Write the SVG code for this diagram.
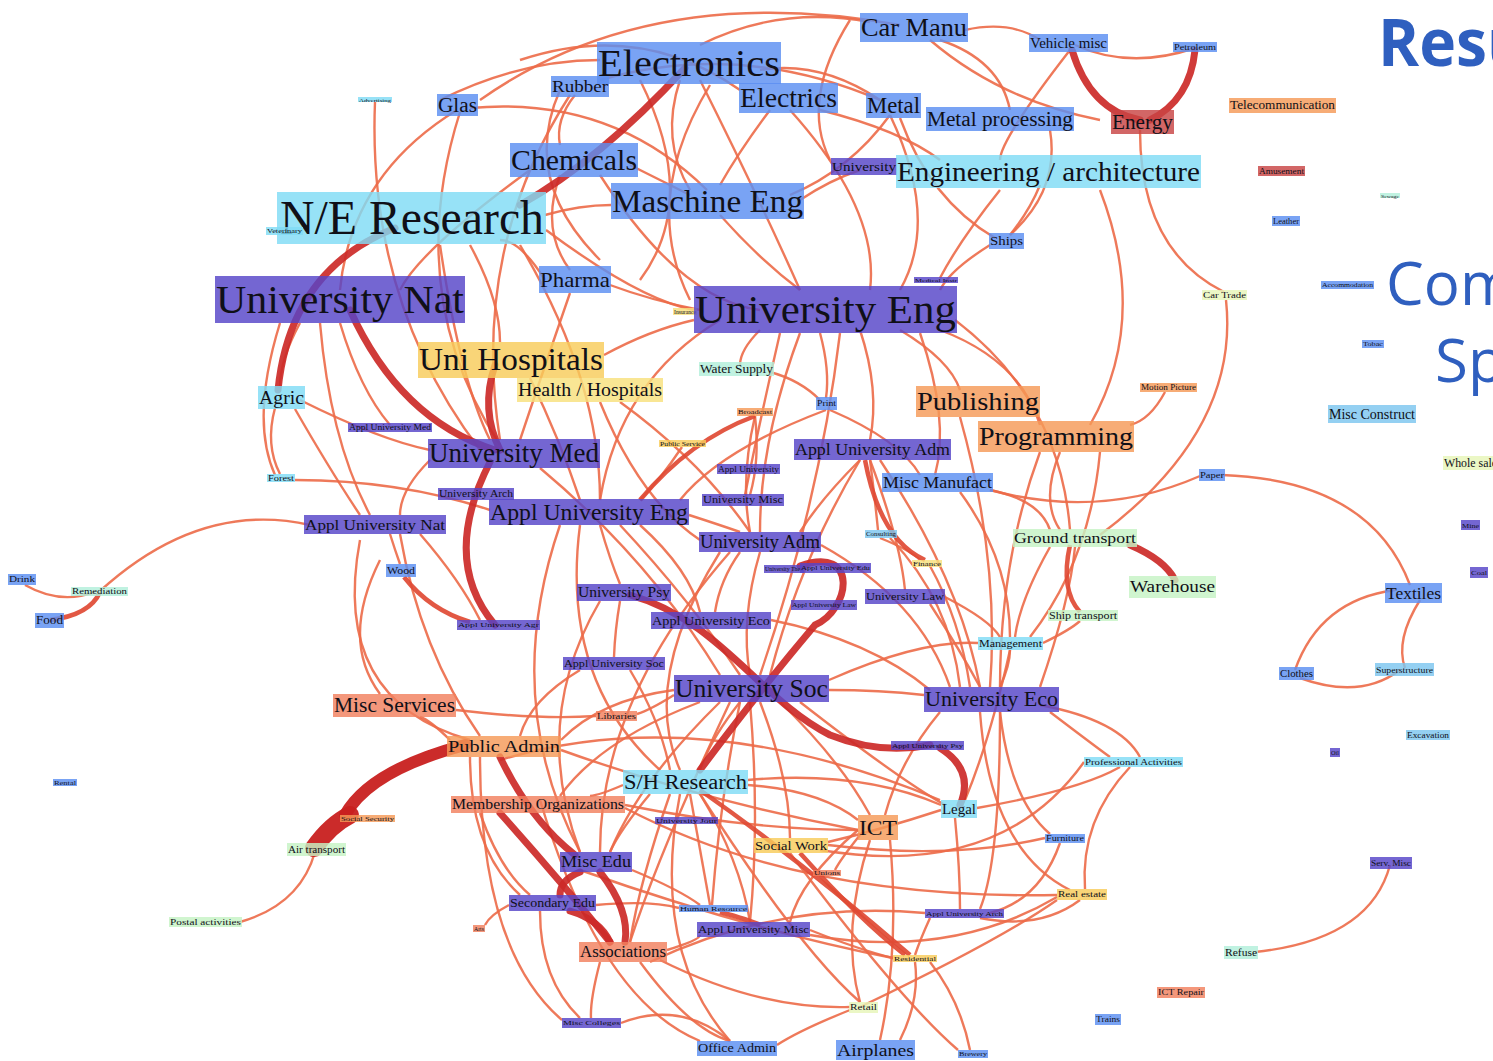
<svg xmlns="http://www.w3.org/2000/svg" width="1493" height="1061" viewBox="0 0 1493 1061">
<style>
.e{fill:none;stroke:#ec6a48;stroke-width:2.4;opacity:.9}
.m{fill:none;stroke:#e04a34;stroke-width:4.5;opacity:.92}
.t{fill:none;stroke:#cc2a28;stroke-width:7;stroke-linecap:round;opacity:.92}
.tt{fill:none;stroke:#c8201f;stroke-linecap:round;opacity:.95}
rect{fill-opacity:.82}
.b{fill:#5c8ff2}.u{fill:#5644c8}.c{fill:#80dcf5}.y{fill:#f8cc5a}.yl{fill:#f8e07c}.o{fill:#f59a58}.r{fill:#f2805e}.dr{fill:#c84444}.g{fill:#c6f3c4}.gy{fill:#e6f5b8}.lb{fill:#7cc6ef}.tq{fill:#b2efda}
text{font-family:"Liberation Serif",serif;fill:#101018}
.h{font-family:"Open Sans","Noto Sans",sans-serif;fill:#2f5fbf}
</style>
<rect x="0" y="0" width="1493" height="1061" fill="#ffffff" fill-opacity="1"/>
<g id="connectors">
<path class="e" d="M480 100Q650-20 900 25"/>
<path class="e" d="M700 45Q780 5 870 22"/>
<path class="e" d="M600 80Q740 40 880 100"/>
<path class="e" d="M760 70Q820 60 880 100"/>
<path class="e" d="M965 30Q1010 20 1040 40"/>
<path class="e" d="M940 40Q1000 60 1010 110"/>
<path class="e" d="M930 40Q1000 100 1100 120"/>
<path class="e" d="M850 20Q800 100 830 160"/>
<path class="e" d="M1070 50Q1000 140 1000 160"/>
<path class="e" d="M820 110Q900 130 940 160"/>
<path class="e" d="M520 60Q640 20 740 90"/>
<path class="e" d="M440 100Q520 60 600 60"/>
<path class="e" d="M630 165Q670 185 690 195"/>
<path class="e" d="M600 175Q680 300 760 310"/>
<path class="e" d="M530 170Q420 250 400 290"/>
<path class="e" d="M560 175Q540 230 570 270"/>
<path class="e" d="M575 95Q555 120 560 145"/>
<path class="e" d="M570 95Q470 250 500 440"/>
<path class="e" d="M560 90Q520 180 600 260"/>
<path class="e" d="M640 80Q700 200 640 280"/>
<path class="e" d="M710 85Q640 200 690 300"/>
<path class="e" d="M720 215Q760 260 800 290"/>
<path class="e" d="M790 195Q850 170 890 115"/>
<path class="e" d="M800 200Q830 180 860 170"/>
<path class="e" d="M790 110Q880 210 870 290"/>
<path class="e" d="M770 110Q740 150 720 185"/>
<path class="e" d="M680 80Q660 140 690 190"/>
<path class="e" d="M700 80Q760 200 800 290"/>
<path class="e" d="M890 115Q940 220 900 290"/>
<path class="e" d="M1050 130Q1060 190 1010 235"/>
<path class="e" d="M1040 185Q1030 210 1010 235"/>
<path class="e" d="M1000 190Q960 240 940 278"/>
<path class="e" d="M900 118Q930 200 995 238"/>
<path class="e" d="M990 245Q950 270 940 290"/>
<path class="e" d="M1100 190Q1150 320 1090 425"/>
<path class="e" d="M457 110Q351 175 340 290"/>
<path class="e" d="M470 108Q611 95 707 190"/>
<path class="e" d="M460 112Q402 295 500 445"/>
<path class="e" d="M375 102Q367 301 480 450"/>
<path class="e" d="M720 320Q620 380 600 500"/>
<path class="e" d="M760 330Q740 350 740 365"/>
<path class="e" d="M800 333Q760 440 760 532"/>
<path class="e" d="M780 333Q760 420 745 495"/>
<path class="e" d="M840 333Q820 500 760 675"/>
<path class="e" d="M820 333Q830 370 826 398"/>
<path class="e" d="M860 330Q880 390 870 440"/>
<path class="e" d="M920 333Q950 420 935 475"/>
<path class="e" d="M900 330Q950 360 960 390"/>
<path class="e" d="M940 330Q1020 360 1040 425"/>
<path class="e" d="M955 320Q1060 400 1070 530"/>
<path class="e" d="M570 293Q540 380 520 440"/>
<path class="e" d="M610 285Q650 300 700 310"/>
<path class="e" d="M545 280Q520 240 500 240"/>
<path class="e" d="M440 245Q460 380 490 440"/>
<path class="e" d="M470 245Q500 300 500 342"/>
<path class="e" d="M520 245Q600 380 600 500"/>
<path class="e" d="M545 215Q580 205 611 205"/>
<path class="e" d="M546 230Q640 300 694 310"/>
<path class="e" d="M300 323Q280 360 280 386"/>
<path class="e" d="M340 323Q360 390 390 425"/>
<path class="e" d="M320 323Q330 440 370 515"/>
<path class="e" d="M280 323Q250 420 275 475"/>
<path class="e" d="M275 408Q265 445 280 474"/>
<path class="e" d="M300 400Q380 440 430 450"/>
<path class="e" d="M295 409Q330 470 360 515"/>
<path class="e" d="M295 480Q400 480 490 510"/>
<path class="e" d="M530 378Q560 440 580 500"/>
<path class="e" d="M604 355Q650 330 694 320"/>
<path class="e" d="M600 402Q640 500 700 540"/>
<path class="e" d="M620 402Q700 460 750 532"/>
<path class="e" d="M770 372Q800 380 820 400"/>
<path class="e" d="M755 416Q740 480 750 532"/>
<path class="e" d="M755 416Q760 460 750 495"/>
<path class="e" d="M826 410Q720 450 680 500"/>
<path class="e" d="M830 410Q900 440 920 475"/>
<path class="e" d="M682 447Q660 480 640 500"/>
<path class="e" d="M860 460Q820 500 800 532"/>
<path class="e" d="M870 460Q875 500 878 530"/>
<path class="e" d="M860 460Q800 560 770 675"/>
<path class="e" d="M880 460Q960 580 980 687"/>
<path class="e" d="M870 460Q900 540 905 590"/>
<path class="e" d="M990 490Q1040 500 1050 530"/>
<path class="e" d="M960 492Q1010 560 1010 637"/>
<path class="e" d="M1060 452Q1040 500 1060 530"/>
<path class="e" d="M1040 452Q1000 560 1000 687"/>
<path class="e" d="M960 417Q1000 560 990 687"/>
<path class="e" d="M1100 452Q1090 560 1030 637"/>
<path class="e" d="M990 490Q1100 520 1200 476"/>
<path class="e" d="M1165 392Q1150 420 1130 425"/>
<path class="e" d="M1226 300Q1240 430 1100 535"/>
<path class="e" d="M1140 130Q1140 250 1224 292"/>
<path class="e" d="M540 468Q650 560 720 675"/>
<path class="e" d="M430 460Q400 490 400 515"/>
<path class="e" d="M620 525Q690 600 740 675"/>
<path class="e" d="M689 515Q720 525 740 532"/>
<path class="e" d="M600 525Q610 560 620 584"/>
<path class="e" d="M640 525Q690 570 700 612"/>
<path class="e" d="M560 525Q500 700 580 852"/>
<path class="e" d="M580 525Q560 680 660 770"/>
<path class="e" d="M390 534Q395 550 400 564"/>
<path class="e" d="M420 534Q460 580 480 620"/>
<path class="e" d="M400 534Q420 650 480 736"/>
<path class="e" d="M380 560Q340 640 380 694"/>
<path class="e" d="M360 540Q330 700 470 740"/>
<path class="e" d="M760 552Q740 620 750 675"/>
<path class="e" d="M821 545Q920 600 950 687"/>
<path class="e" d="M740 552Q720 580 715 612"/>
<path class="e" d="M720 552Q640 680 680 770"/>
<path class="e" d="M730 552Q600 700 600 852"/>
<path class="e" d="M620 601Q615 630 614 657"/>
<path class="e" d="M600 601Q530 720 580 852"/>
<path class="e" d="M771 620Q870 640 930 690"/>
<path class="e" d="M580 670Q530 700 520 736"/>
<path class="e" d="M630 670Q660 720 670 770"/>
<path class="e" d="M740 702Q710 740 700 770"/>
<path class="e" d="M829 690Q880 690 924 695"/>
<path class="e" d="M800 702Q900 780 945 805"/>
<path class="e" d="M780 702Q840 760 870 815"/>
<path class="e" d="M760 702Q790 780 790 838"/>
<path class="e" d="M720 702Q640 780 610 852"/>
<path class="e" d="M700 702Q600 740 560 796"/>
<path class="e" d="M674 690Q600 700 561 740"/>
<path class="e" d="M730 702Q660 850 630 942"/>
<path class="e" d="M750 702Q760 820 750 922"/>
<path class="e" d="M829 680Q920 640 978 643"/>
<path class="e" d="M674 695Q650 710 637 714"/>
<path class="e" d="M740 702Q720 800 712 905"/>
<path class="e" d="M1000 687Q1010 665 1010 650"/>
<path class="e" d="M1050 712Q1100 750 1110 757"/>
<path class="e" d="M1040 705Q1120 720 1140 757"/>
<path class="e" d="M1000 712Q1010 800 1050 834"/>
<path class="e" d="M980 712Q990 850 1070 890"/>
<path class="e" d="M940 712Q900 760 885 815"/>
<path class="e" d="M1040 687Q1070 600 1075 547"/>
<path class="e" d="M1043 643Q1070 630 1080 621"/>
<path class="e" d="M1130 767Q1080 820 1085 889"/>
<path class="e" d="M1060 843Q1040 900 990 913"/>
<path class="e" d="M1080 900Q1040 930 980 918"/>
<path class="e" d="M955 818Q960 870 960 909"/>
<path class="e" d="M941 810Q880 830 828 842"/>
<path class="e" d="M860 835Q840 860 835 870"/>
<path class="e" d="M870 840Q840 930 860 1002"/>
<path class="e" d="M890 840Q900 950 880 1040"/>
<path class="e" d="M858 830Q800 880 790 922"/>
<path class="e" d="M623 785Q600 795 590 796"/>
<path class="e" d="M650 794Q620 830 610 852"/>
<path class="e" d="M700 794Q740 860 750 922"/>
<path class="e" d="M690 794Q700 850 710 905"/>
<path class="e" d="M670 794Q640 880 630 942"/>
<path class="e" d="M748 780Q860 770 941 805"/>
<path class="e" d="M748 785Q820 790 858 820"/>
<path class="e" d="M700 794Q800 950 860 1002"/>
<path class="e" d="M680 794Q650 950 730 1041"/>
<path class="e" d="M480 813Q500 870 530 895"/>
<path class="e" d="M470 757Q470 850 520 895"/>
<path class="e" d="M450 740Q430 720 420 717"/>
<path class="e" d="M456 710Q540 720 596 716"/>
<path class="e" d="M632 870Q680 890 700 905"/>
<path class="e" d="M509 905Q490 915 485 925"/>
<path class="e" d="M540 911Q540 980 580 1018"/>
<path class="e" d="M596 905Q650 900 679 908"/>
<path class="e" d="M667 950Q700 940 700 935"/>
<path class="e" d="M640 962Q690 1030 730 1041"/>
<path class="e" d="M660 960Q760 1010 850 1007"/>
<path class="e" d="M600 962Q590 1000 591 1018"/>
<path class="e" d="M810 930Q860 950 893 958"/>
<path class="e" d="M810 935Q950 960 1057 897"/>
<path class="e" d="M915 962Q920 1000 900 1040"/>
<path class="e" d="M930 962Q960 1000 970 1050"/>
<path class="e" d="M850 1010Q800 1030 777 1045"/>
<path class="e" d="M621 1023Q680 1000 730 1041"/>
<path class="e" d="M930 918Q920 940 915 955"/>
<path class="e" d="M977 808Q1080 790 1120 767"/>
<path class="e" d="M1000 712Q1000 860 980 909"/>
<path class="e" d="M1010 650Q990 740 965 800"/>
<path class="e" d="M930 604Q960 650 980 687"/>
<path class="e" d="M945 597Q990 620 1000 637"/>
<path class="e" d="M930 566Q960 620 970 687"/>
<path class="e" d="M880 538Q910 550 920 560"/>
<path class="e" d="M890 538Q950 600 960 687"/>
<path class="e" d="M1050 547Q1020 600 1015 637"/>
<path class="e" d="M500 760Q700 700 940 800"/>
<path class="e" d="M561 750Q700 800 858 830"/>
<path class="e" d="M625 805Q750 830 858 830"/>
<path class="e" d="M625 808Q800 900 1057 895"/>
<path class="e" d="M580 870Q750 930 893 958"/>
<path class="e" d="M540 800Q600 1000 700 1041"/>
<path class="e" d="M480 757Q480 950 562 1020"/>
<path class="e" d="M820 850Q1000 880 1084 762"/>
<path class="e" d="M828 845Q950 860 1045 838"/>
<path class="e" d="M790 853Q900 1000 958 1050"/>
<path class="e" d="M860 1007Q1000 940 1057 900"/>
<path class="e" d="M650 962Q780 900 925 913"/>
<path class="e" d="M100 591Q200 500 310 525"/>
<path class="e" d="M25 585Q60 605 95 592"/>
<path class="e" d="M315 852Q300 905 240 922"/>
<path class="e" d="M1390 865Q1370 940 1255 952"/>
<path class="e" d="M1222 475Q1370 480 1410 585"/>
<path class="e" d="M1395 590Q1320 600 1295 670"/>
<path class="e" d="M1300 678Q1360 700 1400 670"/>
<path class="e" d="M1420 600Q1395 640 1405 668"/>
<path class="e" d="M1075 45Q1130 70 1195 48"/>
<path class="m" d="M755 416Q690 440 640 500"/>
<path class="m" d="M865 460Q880 540 925 560"/>
<path class="m" d="M1070 545Q1060 590 1080 612"/>
<path class="m" d="M50 620Q90 615 100 592"/>
<path class="m" d="M404 577Q430 610 470 622"/>
<path class="m" d="M720 912Q750 920 760 925"/>
<path class="m" d="M700 790Q800 860 910 955"/>
<path class="m" d="M800 853Q860 920 905 955"/>
<path class="t" d="M685 68Q600 160 520 205"/>
<path class="t" d="M395 228Q290 270 278 390"/>
<path class="t" d="M350 310Q400 420 495 450"/>
<path class="t" d="M495 365Q480 410 500 450"/>
<path class="t" d="M490 462Q440 560 495 625"/>
<path class="t" d="M630 595C720 620 760 700 830 735Q880 755 930 745"/>
<path class="t" d="M800 566C860 545 850 610 815 625Q760 690 700 770"/>
<path class="t" d="M940 748Q975 770 960 805"/>
<path class="t" d="M500 757Q530 820 575 855"/>
<path class="t" d="M500 813Q560 880 610 942"/>
<path class="t" d="M580 872Q560 880 560 895"/>
<path class="t" d="M600 872Q630 910 625 942"/>
<path class="t" d="M570 911Q600 920 610 942"/>
<path class="t" d="M1130 545Q1165 560 1175 580"/>
<path class="t" d="M1072 50Q1090 110 1140 120"/>
<path class="t" d="M1195 50Q1190 100 1150 120"/>
<path class="tt" stroke-width="12" d="M465 745Q370 770 345 815"/>
<path class="tt" stroke-width="18" d="M350 815Q330 825 314 848"/>
</g>
<g id="n-electronics"><rect class="b" x="597" y="42" width="184" height="42"/><text x="598" y="76" font-size="38" textLength="182" lengthAdjust="spacingAndGlyphs">Electronics</text></g>
<g id="n-car-manu"><rect class="b" x="860" y="13" width="108" height="29"/><text x="861" y="36" font-size="26" textLength="106" lengthAdjust="spacingAndGlyphs">Car Manu</text></g>
<g id="n-vehicle-misc"><rect class="b" x="1029" y="34" width="79" height="18"/><text x="1030" y="48" font-size="15" textLength="77" lengthAdjust="spacingAndGlyphs">Vehicle misc</text></g>
<g id="n-petroleum"><rect class="b" x="1173" y="42" width="44" height="10"/><text x="1174" y="50" font-size="9" textLength="42" lengthAdjust="spacingAndGlyphs">Petroleum</text></g>
<g id="n-energy"><rect class="dr" x="1111" y="110" width="63" height="24"/><text x="1112" y="129" font-size="21" textLength="61" lengthAdjust="spacingAndGlyphs">Energy</text></g>
<g id="n-telecommunication"><rect class="o" x="1229" y="98" width="107" height="15"/><text x="1230" y="109" font-size="12" textLength="105" lengthAdjust="spacingAndGlyphs">Telecommunication</text></g>
<g id="n-amusement"><rect class="dr" x="1258" y="166" width="47" height="10"/><text x="1259" y="174" font-size="8" textLength="45" lengthAdjust="spacingAndGlyphs">Amusement</text></g>
<g id="n-sewage"><rect class="tq" x="1380" y="193" width="20" height="5"/><text x="1381" y="198" font-size="5" textLength="18" lengthAdjust="spacingAndGlyphs">Sewage</text></g>
<g id="n-leather"><rect class="b" x="1272" y="216" width="28" height="10"/><text x="1273" y="224" font-size="8" textLength="26" lengthAdjust="spacingAndGlyphs">Leather</text></g>
<g id="n-accommodation"><rect class="b" x="1321" y="281" width="53" height="8"/><text x="1322" y="287" font-size="6" textLength="51" lengthAdjust="spacingAndGlyphs">Accommodation</text></g>
<g id="n-tobac"><rect class="b" x="1362" y="340" width="22" height="8"/><text x="1363" y="346" font-size="7" textLength="20" lengthAdjust="spacingAndGlyphs">Tobac</text></g>
<g id="n-misc-construct"><rect class="lb" x="1328" y="405" width="88" height="18"/><text x="1329" y="419" font-size="14" textLength="86" lengthAdjust="spacingAndGlyphs">Misc Construct</text></g>
<g id="n-whole-sale"><rect class="gy" x="1443" y="456" width="55" height="14"/><text x="1444" y="467" font-size="12" textLength="53" lengthAdjust="spacingAndGlyphs">Whole sale</text></g>
<g id="n-mine"><rect class="u" x="1461" y="520" width="19" height="10"/><text x="1462" y="528" font-size="7" textLength="17" lengthAdjust="spacingAndGlyphs">Mine</text></g>
<g id="n-coal"><rect class="u" x="1470" y="567" width="18" height="11"/><text x="1471" y="575" font-size="7" textLength="16" lengthAdjust="spacingAndGlyphs">Coal</text></g>
<g id="n-textiles"><rect class="b" x="1385" y="583" width="57" height="20"/><text x="1386" y="599" font-size="17" textLength="55" lengthAdjust="spacingAndGlyphs">Textiles</text></g>
<g id="n-clothes"><rect class="b" x="1279" y="667" width="35" height="13"/><text x="1280" y="677" font-size="10" textLength="33" lengthAdjust="spacingAndGlyphs">Clothes</text></g>
<g id="n-superstructure"><rect class="lb" x="1375" y="663" width="59" height="13"/><text x="1376" y="673" font-size="9" textLength="57" lengthAdjust="spacingAndGlyphs">Superstructure</text></g>
<g id="n-excavation"><rect class="lb" x="1406" y="730" width="44" height="10"/><text x="1407" y="738" font-size="8" textLength="42" lengthAdjust="spacingAndGlyphs">Excavation</text></g>
<g id="n-oil"><rect class="u" x="1330" y="748" width="10" height="9"/><text x="1331" y="755" font-size="6" textLength="8" lengthAdjust="spacingAndGlyphs">Oil</text></g>
<g id="n-serv-misc"><rect class="u" x="1370" y="857" width="42" height="12"/><text x="1371" y="866" font-size="9" textLength="40" lengthAdjust="spacingAndGlyphs">Serv. Misc</text></g>
<g id="n-refuse"><rect class="tq" x="1224" y="946" width="34" height="13"/><text x="1225" y="956" font-size="11" textLength="32" lengthAdjust="spacingAndGlyphs">Refuse</text></g>
<g id="n-ict-repair"><rect class="r" x="1157" y="987" width="48" height="11"/><text x="1158" y="995" font-size="9" textLength="46" lengthAdjust="spacingAndGlyphs">ICT Repair</text></g>
<g id="n-trains"><rect class="b" x="1095" y="1014" width="26" height="11"/><text x="1096" y="1022" font-size="8" textLength="24" lengthAdjust="spacingAndGlyphs">Trains</text></g>
<g id="n-brewery"><rect class="b" x="958" y="1050" width="30" height="8"/><text x="959" y="1056" font-size="6" textLength="28" lengthAdjust="spacingAndGlyphs">Brewery</text></g>
<g id="n-glas"><rect class="b" x="437" y="94" width="41" height="22"/><text x="438" y="112" font-size="20" textLength="39" lengthAdjust="spacingAndGlyphs">Glas</text></g>
<g id="n-advertising"><rect class="c" x="358" y="97" width="34" height="5"/><text x="359" y="102" font-size="5" textLength="32" lengthAdjust="spacingAndGlyphs">Advertising</text></g>
<g id="n-rubber"><rect class="b" x="551" y="76" width="58" height="21"/><text x="552" y="92" font-size="17" textLength="56" lengthAdjust="spacingAndGlyphs">Rubber</text></g>
<g id="n-electrics"><rect class="b" x="739" y="83" width="99" height="30"/><text x="740" y="107" font-size="27" textLength="97" lengthAdjust="spacingAndGlyphs">Electrics</text></g>
<g id="n-metal"><rect class="b" x="866" y="93" width="55" height="25"/><text x="867" y="113" font-size="23" textLength="53" lengthAdjust="spacingAndGlyphs">Metal</text></g>
<g id="n-metal-processing"><rect class="b" x="926" y="107" width="148" height="24"/><text x="927" y="126" font-size="20" textLength="146" lengthAdjust="spacingAndGlyphs">Metal processing</text></g>
<g id="n-chemicals"><rect class="b" x="510" y="143" width="128" height="34"/><text x="511" y="170" font-size="30" textLength="126" lengthAdjust="spacingAndGlyphs">Chemicals</text></g>
<g id="n-university"><rect class="u" x="831" y="158" width="66" height="17"/><text x="832" y="171" font-size="12" textLength="64" lengthAdjust="spacingAndGlyphs">University</text></g>
<g id="n-engineering-architecture"><rect class="c" x="896" y="155" width="305" height="33"/><text x="897" y="181" font-size="28" textLength="303" lengthAdjust="spacingAndGlyphs">Engineering / architecture</text></g>
<g id="n-maschine-eng"><rect class="b" x="611" y="183" width="193" height="36"/><text x="612" y="212" font-size="32" textLength="191" lengthAdjust="spacingAndGlyphs">Maschine Eng</text></g>
<g id="n-ne-research"><rect class="c" x="277" y="192" width="269" height="52"/><text x="280" y="234" font-size="48" textLength="264" lengthAdjust="spacingAndGlyphs">N/E Research</text></g>
<g id="n-veterinary"><rect class="c" x="266" y="227" width="37" height="8"/><text x="267" y="233" font-size="6" textLength="35" lengthAdjust="spacingAndGlyphs">Veterinary</text></g>
<g id="n-ships"><rect class="b" x="989" y="233" width="35" height="16"/><text x="990" y="245" font-size="13" textLength="33" lengthAdjust="spacingAndGlyphs">Ships</text></g>
<g id="n-pharma"><rect class="b" x="539" y="266" width="72" height="27"/><text x="540" y="287" font-size="22" textLength="70" lengthAdjust="spacingAndGlyphs">Pharma</text></g>
<g id="n-university-nat"><rect class="u" x="215" y="276" width="250" height="47"/><text x="216" y="313" font-size="40" textLength="248" lengthAdjust="spacingAndGlyphs">University Nat</text></g>
<g id="n-medical-instr"><rect class="u" x="914" y="277" width="44" height="6"/><text x="915" y="282" font-size="5" textLength="42" lengthAdjust="spacingAndGlyphs">Medical Instr</text></g>
<g id="n-insurance"><rect class="yl" x="673" y="308" width="24" height="7"/><text x="674" y="314" font-size="6" textLength="22" lengthAdjust="spacingAndGlyphs">Insurance</text></g>
<g id="n-university-eng"><rect class="u" x="694" y="286" width="263" height="47"/><text x="695" y="323" font-size="40" textLength="261" lengthAdjust="spacingAndGlyphs">University Eng</text></g>
<g id="n-car-trade"><rect class="gy" x="1202" y="290" width="45" height="10"/><text x="1203" y="298" font-size="8" textLength="43" lengthAdjust="spacingAndGlyphs">Car Trade</text></g>
<g id="n-uni-hospitals"><rect class="y" x="418" y="342" width="186" height="36"/><text x="419" y="370" font-size="31" textLength="184" lengthAdjust="spacingAndGlyphs">Uni Hospitals</text></g>
<g id="n-health-hospitals"><rect class="yl" x="517" y="378" width="146" height="24"/><text x="518" y="396" font-size="18" textLength="144" lengthAdjust="spacingAndGlyphs">Health / Hospitals</text></g>
<g id="n-agric"><rect class="c" x="258" y="386" width="47" height="23"/><text x="259" y="404" font-size="19" textLength="45" lengthAdjust="spacingAndGlyphs">Agric</text></g>
<g id="n-water-supply"><rect class="tq" x="699" y="362" width="75" height="14"/><text x="700" y="373" font-size="12" textLength="73" lengthAdjust="spacingAndGlyphs">Water Supply</text></g>
<g id="n-motion-picture"><rect class="o" x="1140" y="383" width="57" height="9"/><text x="1141" y="390" font-size="8" textLength="55" lengthAdjust="spacingAndGlyphs">Motion Picture</text></g>
<g id="n-publishing"><rect class="o" x="916" y="386" width="124" height="31"/><text x="917" y="410" font-size="26" textLength="122" lengthAdjust="spacingAndGlyphs">Publishing</text></g>
<g id="n-broadcast"><rect class="o" x="737" y="408" width="36" height="8"/><text x="738" y="414" font-size="7" textLength="34" lengthAdjust="spacingAndGlyphs">Broadcast</text></g>
<g id="n-print"><rect class="b" x="816" y="397" width="21" height="13"/><text x="817" y="406" font-size="9" textLength="19" lengthAdjust="spacingAndGlyphs">Print</text></g>
<g id="n-appl-university-med"><rect class="u" x="348" y="423" width="84" height="9"/><text x="349" y="430" font-size="8" textLength="82" lengthAdjust="spacingAndGlyphs">Appl University Med</text></g>
<g id="n-programming"><rect class="o" x="978" y="421" width="156" height="31"/><text x="979" y="445" font-size="26" textLength="154" lengthAdjust="spacingAndGlyphs">Programming</text></g>
<g id="n-public-service"><rect class="y" x="659" y="440" width="47" height="7"/><text x="660" y="446" font-size="6" textLength="45" lengthAdjust="spacingAndGlyphs">Public Service</text></g>
<g id="n-university-med"><rect class="u" x="428" y="439" width="172" height="29"/><text x="429" y="462" font-size="27" textLength="170" lengthAdjust="spacingAndGlyphs">University Med</text></g>
<g id="n-appl-university-adm"><rect class="u" x="794" y="439" width="157" height="21"/><text x="795" y="455" font-size="17" textLength="155" lengthAdjust="spacingAndGlyphs">Appl University Adm</text></g>
<g id="n-appl-university"><rect class="u" x="717" y="464" width="63" height="10"/><text x="718" y="472" font-size="8" textLength="61" lengthAdjust="spacingAndGlyphs">Appl University</text></g>
<g id="n-forest"><rect class="c" x="267" y="474" width="28" height="8"/><text x="268" y="481" font-size="8" textLength="26" lengthAdjust="spacingAndGlyphs">Forest</text></g>
<g id="n-misc-manufact"><rect class="b" x="882" y="473" width="111" height="19"/><text x="883" y="488" font-size="17" textLength="109" lengthAdjust="spacingAndGlyphs">Misc Manufact</text></g>
<g id="n-paper"><rect class="b" x="1199" y="469" width="26" height="12"/><text x="1200" y="478" font-size="9" textLength="24" lengthAdjust="spacingAndGlyphs">Paper</text></g>
<g id="n-university-arch"><rect class="u" x="438" y="488" width="76" height="12"/><text x="439" y="497" font-size="10" textLength="74" lengthAdjust="spacingAndGlyphs">University Arch</text></g>
<g id="n-appl-university-eng"><rect class="u" x="489" y="499" width="200" height="26"/><text x="490" y="520" font-size="24" textLength="198" lengthAdjust="spacingAndGlyphs">Appl University Eng</text></g>
<g id="n-university-misc"><rect class="u" x="702" y="494" width="82" height="12"/><text x="703" y="503" font-size="10" textLength="80" lengthAdjust="spacingAndGlyphs">University Misc</text></g>
<g id="n-appl-university-nat"><rect class="u" x="304" y="515" width="142" height="19"/><text x="305" y="530" font-size="15" textLength="140" lengthAdjust="spacingAndGlyphs">Appl University Nat</text></g>
<g id="n-consulting"><rect class="lb" x="865" y="530" width="32" height="8"/><text x="866" y="536" font-size="7" textLength="30" lengthAdjust="spacingAndGlyphs">Consulting</text></g>
<g id="n-university-adm"><rect class="u" x="699" y="532" width="122" height="20"/><text x="700" y="548" font-size="18" textLength="120" lengthAdjust="spacingAndGlyphs">University Adm</text></g>
<g id="n-ground-transport"><rect class="g" x="1013" y="529" width="124" height="18"/><text x="1014" y="543" font-size="15" textLength="122" lengthAdjust="spacingAndGlyphs">Ground transport</text></g>
<g id="n-finance"><rect class="yl" x="912" y="560" width="30" height="7"/><text x="913" y="566" font-size="7" textLength="28" lengthAdjust="spacingAndGlyphs">Finance</text></g>
<g id="n-university-theo"><rect class="u" x="764" y="565" width="40" height="8"/><text x="765" y="571" font-size="6" textLength="38" lengthAdjust="spacingAndGlyphs">University Theo</text></g>
<g id="n-appl-university-edu"><rect class="u" x="800" y="563" width="71" height="10"/><text x="801" y="570" font-size="7" textLength="69" lengthAdjust="spacingAndGlyphs">Appl University Edu</text></g>
<g id="n-drink"><rect class="b" x="8" y="574" width="28" height="11"/><text x="9" y="582" font-size="9" textLength="26" lengthAdjust="spacingAndGlyphs">Drink</text></g>
<g id="n-remediation"><rect class="tq" x="71" y="587" width="57" height="9"/><text x="72" y="594" font-size="8" textLength="55" lengthAdjust="spacingAndGlyphs">Remediation</text></g>
<g id="n-wood"><rect class="b" x="386" y="564" width="30" height="13"/><text x="387" y="574" font-size="10" textLength="28" lengthAdjust="spacingAndGlyphs">Wood</text></g>
<g id="n-warehouse"><rect class="g" x="1129" y="576" width="87" height="22"/><text x="1130" y="592" font-size="16" textLength="85" lengthAdjust="spacingAndGlyphs">Warehouse</text></g>
<g id="n-university-psy"><rect class="u" x="577" y="584" width="94" height="17"/><text x="578" y="597" font-size="14" textLength="92" lengthAdjust="spacingAndGlyphs">University Psy</text></g>
<g id="n-food"><rect class="b" x="35" y="613" width="29" height="15"/><text x="36" y="624" font-size="12" textLength="27" lengthAdjust="spacingAndGlyphs">Food</text></g>
<g id="n-appl-university-eco"><rect class="u" x="651" y="612" width="120" height="17"/><text x="652" y="625" font-size="13" textLength="118" lengthAdjust="spacingAndGlyphs">Appl University Eco</text></g>
<g id="n-appl-university-agr"><rect class="u" x="457" y="620" width="83" height="10"/><text x="458" y="627" font-size="7" textLength="81" lengthAdjust="spacingAndGlyphs">Appl University Agr</text></g>
<g id="n-ship-transport"><rect class="g" x="1048" y="610" width="70" height="11"/><text x="1049" y="619" font-size="10" textLength="68" lengthAdjust="spacingAndGlyphs">Ship transport</text></g>
<g id="n-university-law"><rect class="u" x="865" y="589" width="80" height="15"/><text x="866" y="600" font-size="11" textLength="78" lengthAdjust="spacingAndGlyphs">University Law</text></g>
<g id="n-appl-university-law"><rect class="u" x="791" y="600" width="66" height="10"/><text x="792" y="607" font-size="7" textLength="64" lengthAdjust="spacingAndGlyphs">Appl University Law</text></g>
<g id="n-management"><rect class="c" x="978" y="637" width="65" height="13"/><text x="979" y="647" font-size="10" textLength="63" lengthAdjust="spacingAndGlyphs">Management</text></g>
<g id="n-appl-university-soc"><rect class="u" x="563" y="657" width="102" height="13"/><text x="564" y="667" font-size="11" textLength="100" lengthAdjust="spacingAndGlyphs">Appl University Soc</text></g>
<g id="n-university-soc"><rect class="u" x="674" y="675" width="155" height="27"/><text x="675" y="697" font-size="25" textLength="153" lengthAdjust="spacingAndGlyphs">University Soc</text></g>
<g id="n-university-eco"><rect class="u" x="924" y="687" width="135" height="25"/><text x="925" y="706" font-size="21" textLength="133" lengthAdjust="spacingAndGlyphs">University Eco</text></g>
<g id="n-misc-services"><rect class="r" x="333" y="694" width="123" height="23"/><text x="334" y="712" font-size="20" textLength="121" lengthAdjust="spacingAndGlyphs">Misc Services</text></g>
<g id="n-libraries"><rect class="r" x="596" y="711" width="41" height="10"/><text x="597" y="719" font-size="8" textLength="39" lengthAdjust="spacingAndGlyphs">Libraries</text></g>
<g id="n-public-admin"><rect class="o" x="447" y="736" width="114" height="21"/><text x="448" y="752" font-size="17" textLength="112" lengthAdjust="spacingAndGlyphs">Public Admin</text></g>
<g id="n-appl-university-psy"><rect class="u" x="891" y="741" width="73" height="9"/><text x="892" y="748" font-size="7" textLength="71" lengthAdjust="spacingAndGlyphs">Appl University Psy</text></g>
<g id="n-professional-activities"><rect class="c" x="1084" y="757" width="99" height="10"/><text x="1085" y="765" font-size="9" textLength="97" lengthAdjust="spacingAndGlyphs">Professional Activities</text></g>
<g id="n-rental"><rect class="b" x="53" y="779" width="24" height="7"/><text x="54" y="785" font-size="6" textLength="22" lengthAdjust="spacingAndGlyphs">Rental</text></g>
<g id="n-sh-research"><rect class="c" x="623" y="770" width="125" height="24"/><text x="624" y="789" font-size="20" textLength="123" lengthAdjust="spacingAndGlyphs">S/H Research</text></g>
<g id="n-legal"><rect class="c" x="941" y="800" width="36" height="18"/><text x="942" y="814" font-size="14" textLength="34" lengthAdjust="spacingAndGlyphs">Legal</text></g>
<g id="n-membership-organizations"><rect class="r" x="451" y="796" width="174" height="17"/><text x="452" y="809" font-size="14" textLength="172" lengthAdjust="spacingAndGlyphs">Membership Organizations</text></g>
<g id="n-social-security"><rect class="o" x="340" y="815" width="55" height="7"/><text x="341" y="821" font-size="6" textLength="53" lengthAdjust="spacingAndGlyphs">Social Security</text></g>
<g id="n-university-jour"><rect class="u" x="655" y="817" width="63" height="7"/><text x="656" y="823" font-size="6" textLength="61" lengthAdjust="spacingAndGlyphs">University Jour</text></g>
<g id="n-ict"><rect class="o" x="858" y="815" width="40" height="25"/><text x="859" y="835" font-size="22" textLength="38" lengthAdjust="spacingAndGlyphs">ICT</text></g>
<g id="n-furniture"><rect class="b" x="1045" y="834" width="40" height="9"/><text x="1046" y="841" font-size="8" textLength="38" lengthAdjust="spacingAndGlyphs">Furniture</text></g>
<g id="n-air-transport"><rect class="g" x="287" y="843" width="59" height="13"/><text x="288" y="853" font-size="10" textLength="57" lengthAdjust="spacingAndGlyphs">Air transport</text></g>
<g id="n-social-work"><rect class="y" x="754" y="838" width="74" height="15"/><text x="755" y="850" font-size="13" textLength="72" lengthAdjust="spacingAndGlyphs">Social Work</text></g>
<g id="n-misc-edu"><rect class="u" x="560" y="852" width="72" height="20"/><text x="561" y="867" font-size="16" textLength="70" lengthAdjust="spacingAndGlyphs">Misc Edu</text></g>
<g id="n-unions"><rect class="r" x="813" y="870" width="28" height="6"/><text x="814" y="875" font-size="6" textLength="26" lengthAdjust="spacingAndGlyphs">Unions</text></g>
<g id="n-real-estate"><rect class="y" x="1057" y="889" width="50" height="11"/><text x="1058" y="897" font-size="9" textLength="48" lengthAdjust="spacingAndGlyphs">Real estate</text></g>
<g id="n-secondary-edu"><rect class="u" x="509" y="895" width="87" height="16"/><text x="510" y="907" font-size="13" textLength="85" lengthAdjust="spacingAndGlyphs">Secondary Edu</text></g>
<g id="n-human-resource"><rect class="b" x="679" y="905" width="69" height="7"/><text x="680" y="911" font-size="6" textLength="67" lengthAdjust="spacingAndGlyphs">Human Resource</text></g>
<g id="n-appl-university-arch"><rect class="u" x="925" y="909" width="79" height="9"/><text x="926" y="916" font-size="7" textLength="77" lengthAdjust="spacingAndGlyphs">Appl University Arch</text></g>
<g id="n-postal-activities"><rect class="g" x="169" y="917" width="73" height="10"/><text x="170" y="925" font-size="9" textLength="71" lengthAdjust="spacingAndGlyphs">Postal activities</text></g>
<g id="n-arts"><rect class="r" x="473" y="925" width="12" height="7"/><text x="474" y="931" font-size="6" textLength="10" lengthAdjust="spacingAndGlyphs">Arts</text></g>
<g id="n-appl-university-misc"><rect class="u" x="697" y="922" width="113" height="15"/><text x="698" y="933" font-size="11" textLength="111" lengthAdjust="spacingAndGlyphs">Appl University Misc</text></g>
<g id="n-associations"><rect class="r" x="579" y="942" width="88" height="20"/><text x="580" y="957" font-size="16" textLength="86" lengthAdjust="spacingAndGlyphs">Associations</text></g>
<g id="n-residential"><rect class="y" x="893" y="955" width="44" height="7"/><text x="894" y="961" font-size="6" textLength="42" lengthAdjust="spacingAndGlyphs">Residential</text></g>
<g id="n-retail"><rect class="gy" x="849" y="1002" width="29" height="11"/><text x="850" y="1010" font-size="9" textLength="27" lengthAdjust="spacingAndGlyphs">Retail</text></g>
<g id="n-misc-colleges"><rect class="u" x="562" y="1018" width="59" height="10"/><text x="563" y="1025" font-size="7" textLength="57" lengthAdjust="spacingAndGlyphs">Misc Colleges</text></g>
<g id="n-office-admin"><rect class="b" x="697" y="1041" width="80" height="15"/><text x="698" y="1052" font-size="12" textLength="78" lengthAdjust="spacingAndGlyphs">Office Admin</text></g>
<g id="n-airplanes"><rect class="b" x="836" y="1040" width="79" height="20"/><text x="837" y="1056" font-size="17" textLength="77" lengthAdjust="spacingAndGlyphs">Airplanes</text></g>
<g id="title">
<text class="h" x="1378" y="66" font-size="67" font-weight="bold" textLength="150" lengthAdjust="spacingAndGlyphs">Resu</text>
<text class="h" x="1386" y="305" font-size="60">Com</text>
<text class="h" x="1435" y="382" font-size="60">Sp</text>
</g>
</svg>
